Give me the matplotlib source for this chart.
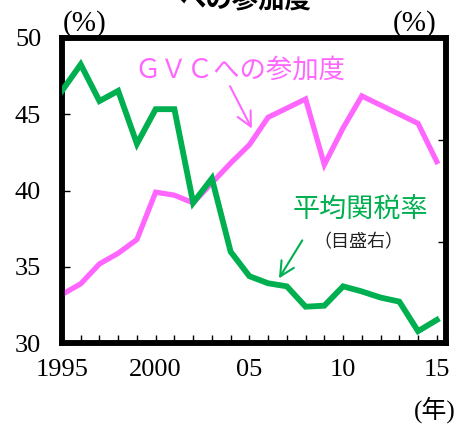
import matplotlib
matplotlib.use("Agg")
import matplotlib.pyplot as plt

# 年
years = list(range(1995, 2016))

# GVCへの参加度（左目盛、%）
gvc = [33.2, 33.9, 35.2, 35.9, 36.8, 39.9, 39.7, 39.2, 40.5, 41.8,
       43.0, 44.8, 45.4, 46.0, 41.7, 44.1, 46.2, 45.6, 45.0, 44.4, 41.9]

# 平均関税率（右目盛、%）
tariff = [12.4, 13.7, 11.9, 12.4, 9.8, 11.5, 11.5, 6.9, 8.1, 4.5,
          3.3, 2.95, 2.8, 1.8, 1.85, 2.8, 2.55, 2.25, 2.05, 0.6, 1.15]

xticks = [1995, 2000, 2005, 2010, 2015]
xticklabels = ["1995", "2000", "05", "10", "15"]

PINK = "#FF66FF"
GREEN = "#00B050"
JP = ["Liberation Serif", "Noto Sans CJK JP"]

plt.rcParams["font.family"] = JP

fig = plt.figure(figsize=(4.59, 4.26), dpi=100)
ax = fig.add_axes([0.135, 0.194, 0.837, 0.717])
ax2 = ax.twinx()

ax.plot(years, gvc, color=PINK, lw=3.8, solid_joinstyle="miter", zorder=3)
ax2.plot(years, tariff, color=GREEN, lw=4.2, solid_joinstyle="miter", zorder=3)

ax.set_xlim(1995, 2015.5)
ax.set_ylim(30, 50)
ax2.set_ylim(0, 15)

ax.set_yticks([30, 35, 40, 45, 50])
ax.set_xticks(xticks)
ax.set_xticklabels(xticklabels)
ax.set_xticks(years, minor=True)
ax2.set_yticks([0, 5, 10, 15])
ax2.set_yticklabels([])

ax.tick_params(axis="y", direction="in", length=6, width=1, labelsize=19, pad=15)
ax.tick_params(axis="x", which="both", direction="in", length=6, width=1,
               labelsize=19, pad=11)
ax2.tick_params(axis="y", direction="in", length=6, width=1, right=True)

for a in (ax, ax2):
    for s in a.spines.values():
        s.set_linewidth(4)
        s.set_color("black")

# 注記
ax.text(2004.5, 47.9, "ＧＶＣへの参加度", color=PINK, fontsize=19,
        ha="center", va="center", family=["Noto Sans CJK JP"])
ax.annotate("", xy=(2005.2, 43.9), xytext=(2003.9, 47.0),
            arrowprops=dict(arrowstyle="->", color=PINK, lw=1.5,
                            mutation_scale=26))
ax.text(2010.9, 38.7, "平均関税率", color=GREEN, fontsize=19.5,
        ha="center", va="center", family=["Noto Sans CJK JP"])
ax.text(2010.8, 36.6, "（目盛右）", color="#222222", fontsize=13,
        ha="center", va="center", family=["Noto Sans CJK JP"])
ax.annotate("", xy=(2006.5, 34.1), xytext=(2007.9, 36.9),
            arrowprops=dict(arrowstyle="->", color=GREEN, lw=1.5,
                            mutation_scale=26))

fig.text(63 / 459, 1 - 24 / 426, "(%)", fontsize=21, ha="left", va="center")
fig.text(436 / 459, 1 - 24 / 426, "(%)", fontsize=21, ha="right", va="center")
fig.text(435 / 459, 1 - 410 / 426, "(年)", fontsize=18, ha="center", va="center")

fig.text(0.534, 1.0, "への参加度", fontsize=19, fontweight="bold",
         ha="center", va="center", family=["Noto Sans CJK JP"])

fig.savefig("out.png", dpi=100)
